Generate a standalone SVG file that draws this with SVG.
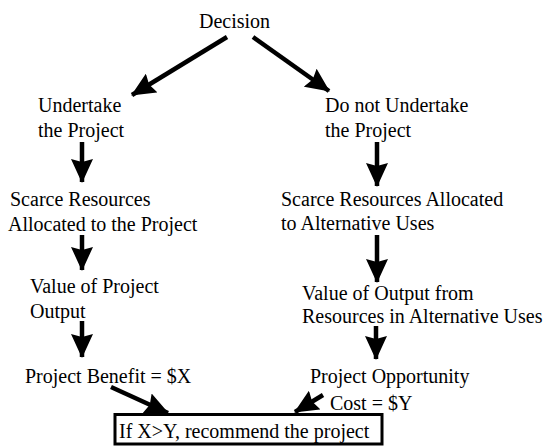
<svg xmlns="http://www.w3.org/2000/svg" width="547" height="447" viewBox="0 0 547 447">
<defs>
<marker id="ah" markerUnits="userSpaceOnUse" markerWidth="24" markerHeight="22" viewBox="0 0 24 22" refX="23" refY="11" orient="auto">
<path d="M0,0 L24,11 L0,22 L3,11 Z" fill="#000"/>
</marker>
</defs>
<rect width="547" height="447" fill="#fff"/>
<g id="decision"><text style="font-family:'Liberation Serif';font-size:20px" x="234.5" y="28" text-anchor="middle">Decision</text></g>
<g id="undertake"><text style="font-family:'Liberation Serif';font-size:20px" x="38" y="112">Undertake</text><text style="font-family:'Liberation Serif';font-size:20px" x="38" y="137">the Project</text></g>
<g id="notundertake"><text style="font-family:'Liberation Serif';font-size:20px" x="325" y="112">Do not Undertake</text><text style="font-family:'Liberation Serif';font-size:20px" x="325" y="137">the Project</text></g>
<g id="scarce-project"><text style="font-family:'Liberation Serif';font-size:20px" x="10" y="206">Scarce Resources</text><text style="font-family:'Liberation Serif';font-size:20px" x="8" y="231">Allocated to the Project</text></g>
<g id="scarce-alt"><text style="font-family:'Liberation Serif';font-size:20px" x="281" y="206">Scarce Resources Allocated</text><text style="font-family:'Liberation Serif';font-size:20px" x="281" y="230">to Alternative Uses</text></g>
<g id="value-project"><text style="font-family:'Liberation Serif';font-size:20px" x="30" y="293">Value of Project</text><text style="font-family:'Liberation Serif';font-size:20px" x="30" y="318">Output</text></g>
<g id="value-alt"><text style="font-family:'Liberation Serif';font-size:20px" x="302" y="300">Value of Output from</text><text style="font-family:'Liberation Serif';font-size:20px" x="302" y="323">Resources in Alternative Uses</text></g>
<g id="benefit"><text style="font-family:'Liberation Serif';font-size:20px" x="25" y="383">Project Benefit = $X</text></g>
<g id="cost"><text style="font-family:'Liberation Serif';font-size:20px" x="310" y="383">Project Opportunity</text><text style="font-family:'Liberation Serif';font-size:20px" x="330" y="410">Cost = $Y</text></g>
<g id="result"><rect x="115" y="414.5" width="267" height="29.5" fill="none" stroke="#000" stroke-width="3"/><text style="font-family:'Liberation Serif';font-size:20px" x="119" y="438">If X&gt;Y, recommend the project</text></g>
<g id="connectors" stroke="#000" stroke-width="4.5" marker-end="url(#ah)">
<line x1="227" y1="37" x2="132" y2="95"/>
<line x1="253" y1="37" x2="329" y2="91"/>
<line x1="82" y1="142" x2="82" y2="182"/>
<line x1="82" y1="235" x2="82" y2="270"/>
<line x1="82" y1="321" x2="82" y2="357"/>
<line x1="377" y1="142" x2="377" y2="186"/>
<line x1="377" y1="235" x2="377" y2="282"/>
<line x1="376" y1="326" x2="376" y2="359"/>
<line x1="111" y1="387" x2="168" y2="413"/>
<line x1="323" y1="395" x2="295" y2="412"/>
</g>
</svg>
